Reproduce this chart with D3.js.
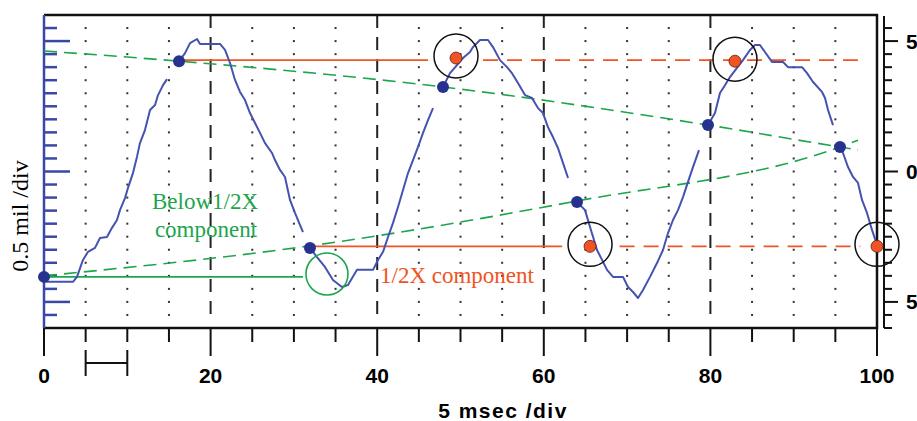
<!DOCTYPE html>
<html>
<head>
<meta charset="utf-8">
<script src="https://cdn.jsdelivr.net/npm/d3@7"></script>
<style>
  html, body { margin: 0; padding: 0; background: #fff; }
  svg { display: block; }
</style>
</head>
<body>
<svg id="chart" width="917" height="421"></svg>
<script>
// x in 5 msec/div units (0..100), y in mils (0.5 mil/div)
const xMajor = [0, 20, 40, 60, 80, 100]
const xMinor = [5, 10, 15, 25, 30, 35, 45, 50, 55, 65, 70, 75, 85, 90, 95]
const xLabels = ['0', '20', '40', '60', '80', '100']
const yLong = [5, 0, -5]
const yLabels = ['5', '0', '5']

// probe signal, broken at each keyphasor blank
const wave1 = [[0,-4.04],[0.3,-4.23],[3.48,-4.23],[3.96,-4.04],[4.68,-3.39],[5.28,-3.08],[6.12,-2.93],[6.72,-2.55],[7.56,-2.51],[8.16,-2.16],[8.76,-1.86],[9.12,-1.48],[9.72,-1.02],[10.08,-0.63],[10.68,-0.06],[11.16,0.56],[11.52,1.09],[12.12,1.59],[12.73,2.36],[13.33,2.55],[13.69,2.93],[14.29,3.31],[14.77,3.54]]
const wave2 = [[16.21,4.23],[16.93,4.54],[17.53,4.92],[18.37,5.08],[18.73,4.89],[21.13,4.89],[21.73,4.66],[22.33,4.16],[22.93,3.51],[23.53,3.05],[24.13,2.74],[24.73,2.24],[25.33,1.86],[25.93,1.48],[26.53,1.09],[27.37,0.71],[27.73,0.44],[28.33,0.06],[28.93,-0.21],[29.53,-1.09],[30.13,-1.59],[31.09,-2.32]]
const wave3 = [[31.93,-2.93],[32.77,-3.28],[33.73,-3.66],[34.69,-4.16],[35.77,-4.43],[36.49,-4.35],[37.58,-3.77],[39.50,-3.77],[40.10,-3.39],[40.70,-3.08],[41.30,-2.51],[41.90,-1.97],[42.50,-1.36],[43.10,-0.71],[43.70,-0.06],[44.30,0.44],[44.90,0.94],[45.50,1.48],[46.10,1.97],[46.70,2.43]]
const wave4 = [[47.90,3.24],[48.74,3.77],[49.58,4.08],[50.30,4.35],[51.14,4.58],[51.50,4.77],[52.34,5.04],[53.30,5.04],[53.90,4.77],[54.74,4.27],[55.58,4.00],[56.18,3.77],[56.90,3.39],[57.74,2.93],[58.58,2.82],[59.30,2.43],[59.90,2.24],[60.50,1.70],[61.10,1.32],[61.70,0.90],[62.30,0.33],[62.91,-0.25]]
const wave5 = [[63.99,-1.17],[64.95,-1.48],[65.55,-2.13],[66.39,-3.01],[66.99,-3.39],[67.59,-3.77],[68.31,-4.04],[69.51,-4.04],[70.11,-4.43],[70.71,-4.62],[71.31,-4.85],[71.91,-4.54],[72.75,-4.04],[73.59,-3.51],[74.31,-3.01],[74.91,-2.36],[75.51,-1.86],[76.11,-1.48],[76.71,-0.98],[77.31,-0.40],[77.91,0.17],[78.63,0.82]]
const wave6 = [[79.71,1.78],[80.55,2.24],[81.15,3.01],[81.75,3.31],[82.35,3.62],[83.19,3.97],[83.91,4.27],[84.75,4.66],[85.35,4.85],[85.95,4.85],[86.55,4.58],[87.39,4.20],[88.72,4.20],[89.32,4.00],[91.00,4.00],[91.60,3.77],[92.32,3.43],[93.40,3.05],[93.76,2.82],[94.12,2.36],[94.72,1.78]]
const wave7 = [[95.56,0.94],[95.92,0.71],[96.52,0.17],[97.12,-0.21],[97.72,-0.44],[98.20,-1.09],[98.80,-1.59],[99.40,-2.24],[99.88,-2.70]]

// keyphasor dots
const keyDots = [[0,-4.04],[16.21,4.23],[31.93,-2.93],[47.90,3.24],[63.99,-1.17],[79.71,1.78],[95.56,0.94]]

// below 1/2X envelopes (through alternate keyphasor dots)
const greenDesc = [[0,4.62],[16.21,4.23],[47.90,3.24],[79.71,1.78],[95.56,0.94],[97.72,0.83]]
const greenAsc = [[0,-4.0],[31.93,-2.85],[63.99,-1.13],[95.56,0.94],[97.72,1.2]]
const greenLevel = { y: -4.04, x0: 0, x1: 31.1 }
const greenRing = [33.97, -3.93]

// 1/2X component levels
const redSolid = [{ y: 4.27, x0: 16.21, x1: 46.1 }, { y: -2.87, x0: 31.93, x1: 62.2 }]
const redDashed = [{ y: 4.27, x0: 52.7, x1: 97.7 }, { y: -2.87, x0: 69.1, x1: 98.0 }]
const redDots = [[49.46,4.35],[82.95,4.23],[65.55,-2.87],[100,-2.87]]

const scaleBar = [5, 10]

function draw(){
	const svg = d3.select('#chart')
	const left = 44, right = 877, top = 15, bottom = 328

	const x = d3.scaleLinear().domain([0, 100]).range([left, right])
	const y = d3.scaleLinear().domain([-6, 6]).range([bottom, top])
	const yTicks = d3.range(-6, 6, 0.5)
	const yDots = d3.range(-5.5, 6, 0.5)

	const blue = '#4652b0', navy = '#27328f', green = '#1ca64c', red = '#f05424'

	// __________ grid _________________
	const dots = svg.append('g').attr('fill', '#333')
	xMinor.forEach(v => {
		dots.selectAll(null).data(yDots).join('rect')
			.attr('x', x(v) - 1).attr('y', d => y(d) - 1)
			.attr('width', 2).attr('height', 2)
	})
	svg.append('g').selectAll('line')
		.data(xMajor.slice(1, -1))
		.join('line')
		.attr('x1', d => x(d)).attr('x2', d => x(d))
		.attr('y1', top).attr('y2', bottom - 14)
		.attr('stroke', '#222').attr('stroke-width', 2)
		.attr('stroke-dasharray', '13,9')

	// __________ frame + x axis _________________
	svg.append('path')
		.attr('d', `M${left},${top}H${right}V${bottom}H${left}`)
		.attr('fill', 'none').attr('stroke', '#111').attr('stroke-width', 2.5)

	const xAxis = svg.append('g')
	xAxis.selectAll('.mi').data(xMinor).join('line')
		.attr('x1', d => x(d)).attr('x2', d => x(d))
		.attr('y1', bottom).attr('y2', bottom + 14)
		.attr('stroke', '#111').attr('stroke-width', 2)
	xAxis.selectAll('.ma').data(xMajor).join('line')
		.attr('x1', d => x(d)).attr('x2', d => x(d))
		.attr('y1', bottom).attr('y2', bottom + 28)
		.attr('stroke', '#111').attr('stroke-width', 2)
	xAxis.selectAll('text').data(xMajor).join('text')
		.attr('x', d => x(d)).attr('y', 383)
		.attr('text-anchor', 'middle')
		.style('font', 'bold 21px "Liberation Sans", Arial, sans-serif')
		.text((d, i) => xLabels[i])

	// scale bar (one division)
	const bar = svg.append('g').attr('stroke', '#111').attr('stroke-width', 2)
	bar.append('line').attr('x1', x(scaleBar[0])).attr('x2', x(scaleBar[1])).attr('y1', 363).attr('y2', 363)
	bar.selectAll(null).data(scaleBar).join('line')
		.attr('x1', d => x(d)).attr('x2', d => x(d)).attr('y1', 350).attr('y2', 376)

	svg.append('text')
		.attr('x', 503).attr('y', 418)
		.attr('text-anchor', 'middle')
		.style('font', 'bold 21px "Liberation Sans", Arial, sans-serif')
		.style('letter-spacing', '1.5px')
		.text('5 msec /div')

	// __________ left (blue) axis _________________
	const lAxis = svg.append('g').attr('stroke', '#3b47a6').attr('stroke-width', 2.5)
	lAxis.append('line').attr('x1', left).attr('x2', left).attr('y1', top).attr('y2', bottom)
	lAxis.selectAll(null).data(yDots).join('line')
		.attr('x1', left).attr('x2', d => yLong.includes(d) ? left + 26 : left + 13)
		.attr('y1', d => y(d)).attr('y2', d => y(d))

	svg.append('text')
		.attr('transform', 'translate(28,216) rotate(-90)')
		.attr('text-anchor', 'middle')
		.style('font', '24px "Liberation Serif", "Times New Roman", serif')
		.text('0.5 mil /div')

	// __________ right axis _________________
	const rx = 884
	const rAxis = svg.append('g').attr('stroke', '#111').attr('stroke-width', 2)
	rAxis.append('line').attr('x1', rx).attr('x2', rx).attr('y1', top + 1).attr('y2', bottom)
	rAxis.selectAll(null).data(yTicks).join('line')
		.attr('x1', rx).attr('x2', d => yLong.includes(d) ? rx + 14 : rx + 8)
		.attr('y1', d => y(d)).attr('y2', d => y(d))
	svg.append('g').selectAll('text').data(yLong).join('text')
		.attr('x', 906).attr('y', d => y(d)).attr('dy', '0.36em')
		.style('font', 'bold 21px "Liberation Sans", Arial, sans-serif')
		.text((d, i) => yLabels[i])

	// __________ envelopes and levels _________________
	const line = d3.line().x(d => x(d[0])).y(d => y(d[1]))
	const curve = d3.line().x(d => x(d[0])).y(d => y(d[1])).curve(d3.curveMonotoneX)

	svg.append('g').selectAll('path').data([greenDesc, greenAsc]).join('path')
		.attr('d', curve)
		.attr('fill', 'none').attr('stroke', green).attr('stroke-width', 1.6)
		.attr('stroke-dasharray', '13,7')

	svg.append('line')
		.attr('x1', x(greenLevel.x0)).attr('x2', x(greenLevel.x1))
		.attr('y1', y(greenLevel.y)).attr('y2', y(greenLevel.y))
		.attr('stroke', green).attr('stroke-width', 1.6)

	svg.append('g').selectAll('line').data(redSolid).join('line')
		.attr('x1', d => x(d.x0)).attr('x2', d => x(d.x1))
		.attr('y1', d => y(d.y)).attr('y2', d => y(d.y))
		.attr('stroke', red).attr('stroke-width', 1.6)
	svg.append('g').selectAll('line').data(redDashed).join('line')
		.attr('x1', d => x(d.x0)).attr('x2', d => x(d.x1))
		.attr('y1', d => y(d.y)).attr('y2', d => y(d.y))
		.attr('stroke', red).attr('stroke-width', 1.6)
		.attr('stroke-dasharray', '15,9')

	// __________ signal _________________
	svg.append('g').selectAll('path')
		.data([wave1, wave2, wave3, wave4, wave5, wave6, wave7])
		.join('path')
		.attr('d', line)
		.attr('fill', 'none').attr('stroke', blue).attr('stroke-width', 2)
		.attr('stroke-linejoin', 'round')

	svg.append('g').selectAll('circle').data(keyDots).join('circle')
		.attr('cx', d => x(d[0])).attr('cy', d => y(d[1])).attr('r', 6)
		.attr('fill', navy)

	// __________ rings and 1/2X dots _________________
	svg.append('circle')
		.attr('cx', x(greenRing[0])).attr('cy', y(greenRing[1])).attr('r', 21)
		.attr('fill', 'none').attr('stroke', green).attr('stroke-width', 1.6)

	svg.append('g').selectAll('circle').data(redDots).join('circle')
		.attr('cx', d => x(d[0])).attr('cy', d => y(d[1]) - 2).attr('r', 22)
		.attr('fill', 'none').attr('stroke', '#111').attr('stroke-width', 1.5)
	svg.append('g').selectAll('circle').data(redDots).join('circle')
		.attr('cx', d => x(d[0])).attr('cy', d => y(d[1])).attr('r', 6)
		.attr('fill', red).attr('stroke', '#5a2010').attr('stroke-width', 0.8)

	// __________ notes _________________
	const serif = '23px "Liberation Serif", "Times New Roman", serif'
	svg.append('text').attr('x', 205).attr('y', 209).attr('text-anchor', 'middle')
		.attr('fill', green).style('font', serif).text('Below1/2X')
	svg.append('text').attr('x', 206).attr('y', 237).attr('text-anchor', 'middle')
		.attr('fill', green).style('font', serif).text('component')
	svg.append('text').attr('x', 380).attr('y', 283)
		.attr('fill', red).style('font', serif).text('1/2X component')
}

draw()
</script>
</body>
</html>
